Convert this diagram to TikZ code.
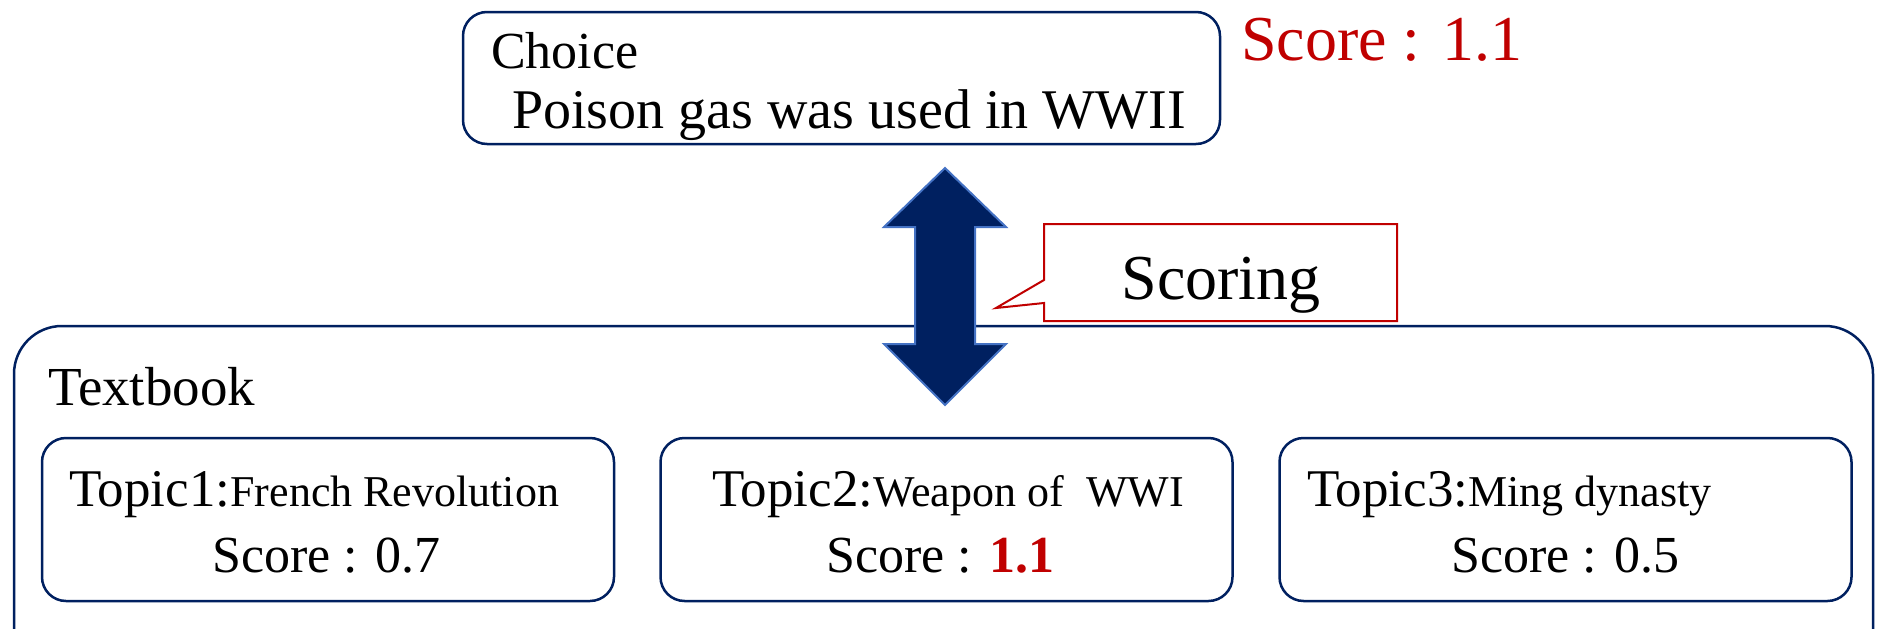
\documentclass[tikz,border=0pt]{standalone}
\usepackage{fontspec}
\setmainfont{Liberation Serif}
\definecolor{navy}{HTML}{002060}
\definecolor{arrowline}{HTML}{4472C4}
\definecolor{redc}{HTML}{C00000}
\newcommand{\fsz}[1]{\fontsize{#1}{#1}\selectfont}
\begin{document}
\begin{tikzpicture}[x=1pt,y=-1pt,
  box/.style={draw=navy, line width=2.5pt, rounded corners=24pt, fill=white, inner sep=0pt},
  txt/.style={inner sep=0pt, anchor=base west},
  bigarrow/.style={fill=navy, draw=arrowline, line width=2pt, line join=miter},
  callout/.style={draw=redc, line width=2pt, fill=white},
]
\useasboundingbox (0,0) rectangle (1877,629);
\clip (0,0) rectangle (1877,629);
% Textbook outer box
\node[box, rounded corners=48pt, minimum width=1859pt, minimum height=374pt] (textbook) at (943.5,513) {};
% Choice box
\node[box, minimum width=757pt, minimum height=132pt] (choice) at (841.5,78) {};
% topic boxes
\node[box, minimum width=572pt, minimum height=163pt] (t1) at (328,519.5) {};
\node[box, minimum width=572pt, minimum height=163pt] (t2) at (946.5,519.5) {};
\node[box, minimum width=572pt, minimum height=163pt] (t3) at (1565.5,519.5) {};
% double arrow
\draw[bigarrow] (945,168) -- (1006,227) -- (975,227) -- (975,344) -- (1006,344) -- (945,405)
  -- (884,344) -- (915,344) -- (915,227) -- (884,227) -- cycle;
% callout
\draw[callout] (1044,224) -- (1397,224) -- (1397,321) -- (1044,321) -- (1044,303) -- (996,308) -- (1044,280) -- cycle;
% texts
\node[txt] (choicelbl) at (491,68) {\fsz{52}Choice};
\node[txt] (choicetxt) at (512,128) {\fsz{56}Poison gas was used in WWII};
\node[txt, text=redc] (topscore) at (1241,60) {\fsz{64}Score : 1.1};
\node[inner sep=0pt, anchor=base] (scoring) at (1221,299) {\fsz{64}Scoring};
\node[txt] (tblbl) at (48,405) {\fsz{55}Textbook};
\node[txt] (t1a) at (69,506) {\fsz{53}Topic1:\fsz{44}French Revolution};
\node[txt] (t1b) at (212,572) {\fsz{52}Score : 0.7};
\node[txt] (t2a) at (712,506) {\fsz{53}Topic2:\fsz{44}Weapon of \ WWI};
\node[txt] (t2b) at (826,572) {\fsz{52}Score : \textcolor{redc}{\textbf{1.1}}};
\node[txt] (t3a) at (1307,506) {\fsz{53}Topic3:\fsz{44}Ming dynasty};
\node[txt] (t3b) at (1451,572) {\fsz{52}Score : 0.5};
\end{tikzpicture}
\end{document}
